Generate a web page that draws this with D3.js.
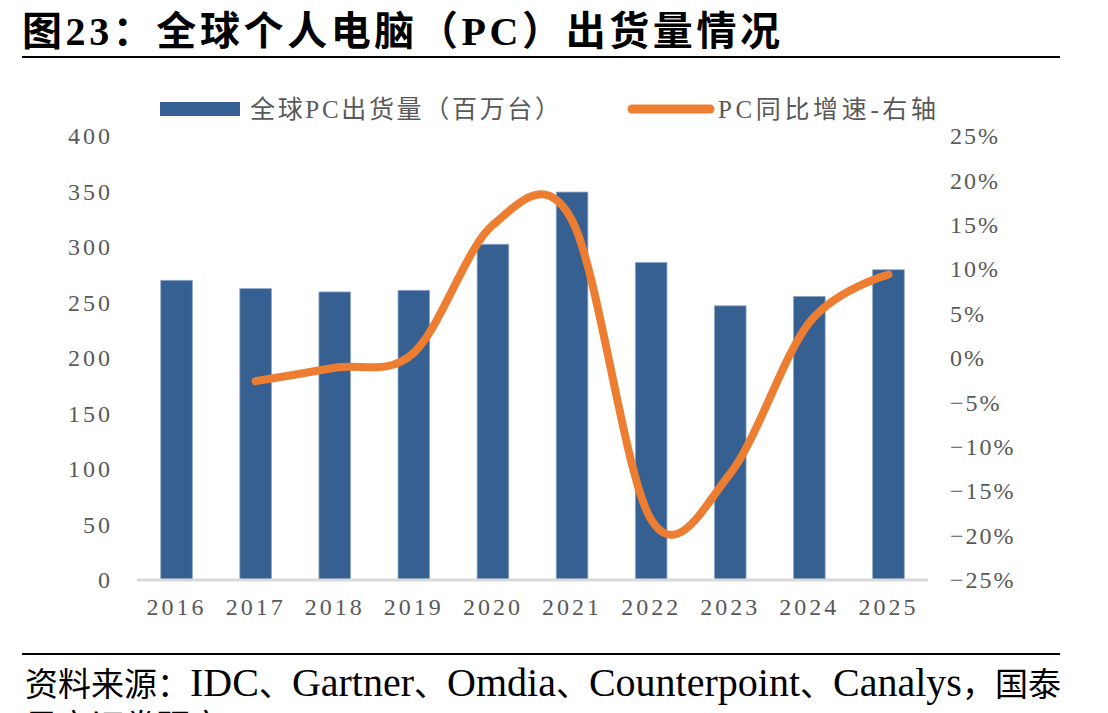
<!DOCTYPE html>
<html>
<head>
<meta charset="utf-8">
<script src="https://cdn.jsdelivr.net/npm/d3@7"></script>
<style>
  body { margin: 0; background: #fff; }
  svg { display: block; }
</style>
</head>
<body>
<div id="chart"></div>
<script>
const years = ["2016", "2017", "2018", "2019", "2020", "2021", "2022", "2023", "2024", "2025"];
// 全球PC出货量（百万台）
const shipments = [270, 262.5, 259.5, 261, 302.5, 349.5, 286, 247, 255.5, 279.5];
// PC同比增速（%），2016 无数据
const yoy = [null, -2.6, -1.1, 0.6, 15.0, 15.5, -18.2, -13.0, 4.0, 9.4];
const leftTicks = [0, 50, 100, 150, 200, 250, 300, 350, 400];
const rightTicks = [-25, -20, -15, -10, -5, 0, 5, 10, 15, 20, 25];
// source line, split into CJK / Latin runs
const sourceParts = ["资料来源：", "IDC", "、", "Gartner", "、", "Omdia", "、", "Counterpoint", "、", "Canalys", "，国泰"];

const width = 1108, height = 713;
const margin = { top: 136, right: 180, bottom: 133, left: 137 };
const serif = "'Liberation Serif', 'Noto Sans CJK SC', serif";
const gray = "#595959";
const blue = "#376092";
const orange = "#ED7D31";

const svg = d3.select("#chart").append("svg")
  .attr("width", width)
  .attr("height", height);

// title + rules
svg.append("text")
  .attr("x", 22).attr("y", 45)
  .attr("font-family", serif)
  .attr("font-weight", "bold")
  .attr("font-size", 40)
  .attr("fill", "#000")
  .attr("textLength", 758)
  .attr("lengthAdjust", "spacing")
  .text("图23：全球个人电脑（PC）出货量情况");

svg.append("line")
  .attr("x1", 22).attr("x2", 1060).attr("y1", 57).attr("y2", 57)
  .attr("stroke", "#000").attr("stroke-width", 2);

svg.append("line")
  .attr("x1", 22).attr("x2", 1060).attr("y1", 654).attr("y2", 654)
  .attr("stroke", "#000").attr("stroke-width", 2);

svg.append("text")
  .attr("x", 25).attr("y", 696)
  .attr("font-family", serif)
  .attr("fill", "#000")
  .selectAll("tspan")
  .data(sourceParts)
  .join("tspan")
  .attr("font-size", (d) => (/[A-Za-z]/.test(d) ? 40 : 33))
  .text((d) => d);

svg.append("text")
  .attr("x", 25).attr("y", 738)
  .attr("font-family", serif)
  .attr("font-size", 33)
  .attr("fill", "#000")
  .text("君安证券研究");

// scales
const x = d3.scaleBand()
  .domain(years)
  .range([margin.left, 928])
  .paddingInner(0.6)
  .paddingOuter(0.3);

const y = d3.scaleLinear()
  .domain([0, 400])
  .range([height - margin.bottom, margin.top]);

const y2 = d3.scaleLinear()
  .domain([-25, 25])
  .range([height - margin.bottom, margin.top]);

// left axis
const gY = svg.append("g")
  .attr("transform", `translate(${margin.left},0)`)
  .call(d3.axisLeft(y).tickValues(leftTicks).tickSize(0).tickPadding(24));
gY.select(".domain").remove();
gY.selectAll("text")
  .attr("font-family", serif)
  .attr("font-size", 24)
  .attr("letter-spacing", 3)
  .attr("fill", gray);

// right axis
const gY2 = svg.append("g")
  .attr("transform", `translate(${x.range()[1]},0)`)
  .call(d3.axisRight(y2).tickValues(rightTicks).tickSize(0).tickPadding(22)
    .tickFormat((d) => (d < 0 ? "\u2212" + Math.abs(d) : d) + "%"));
gY2.select(".domain").remove();
gY2.selectAll("text")
  .attr("font-family", serif)
  .attr("font-size", 24)
  .attr("letter-spacing", 2)
  .attr("fill", gray);

// bars
svg.append("g")
  .selectAll("rect")
  .data(years.map((d, i) => ({ year: d, value: shipments[i] })))
  .join("rect")
  .attr("x", (d) => x(d.year))
  .attr("y", (d) => y(d.value))
  .attr("width", x.bandwidth())
  .attr("height", (d) => y(0) - y(d.value))
  .attr("fill", blue)
  .attr("stroke", "#8fa8c8")
  .attr("stroke-width", 0.8);

// baseline
svg.append("line")
  .attr("x1", x.range()[0]).attr("x2", x.range()[1])
  .attr("y1", y(0)).attr("y2", y(0))
  .attr("stroke", "#d9d9d9").attr("stroke-width", 3);

// x axis labels
const gX = svg.append("g")
  .attr("transform", `translate(0,${y(0)})`)
  .call(d3.axisBottom(x).tickSize(0).tickPadding(18));
gX.select(".domain").remove();
gX.selectAll("text")
  .attr("font-family", serif)
  .attr("font-size", 24)
  .attr("letter-spacing", 3)
  .attr("fill", gray);

// growth line
const line = d3.line()
  .x((d) => x(d.year) + x.bandwidth() / 2)
  .y((d) => y2(d.value))
  .curve(d3.curveCatmullRom.alpha(0));

svg.append("path")
  .datum(years.map((d, i) => ({ year: d, value: yoy[i] })).filter((d) => d.value !== null))
  .attr("d", line)
  .attr("fill", "none")
  .attr("stroke", orange)
  .attr("stroke-width", 8)
  .attr("stroke-linecap", "round")
  .attr("stroke-linejoin", "round");

// legend
const legend = svg.append("g");
legend.append("rect")
  .attr("x", 160).attr("y", 102).attr("width", 80).attr("height", 14)
  .attr("fill", blue);
legend.append("text")
  .attr("x", 250).attr("y", 118)
  .attr("font-family", serif)
  .attr("font-size", 25)
  .attr("fill", gray)
  .attr("textLength", 310)
  .attr("lengthAdjust", "spacing")
  .text("全球PC出货量（百万台）");
legend.append("line")
  .attr("x1", 632).attr("x2", 710).attr("y1", 109).attr("y2", 109)
  .attr("stroke", orange).attr("stroke-width", 9).attr("stroke-linecap", "round");
legend.append("text")
  .attr("x", 718).attr("y", 118)
  .attr("font-family", serif)
  .attr("font-size", 25)
  .attr("fill", gray)
  .attr("textLength", 218)
  .attr("lengthAdjust", "spacing")
  .text("PC同比增速-右轴");
</script>
</body>
</html>
